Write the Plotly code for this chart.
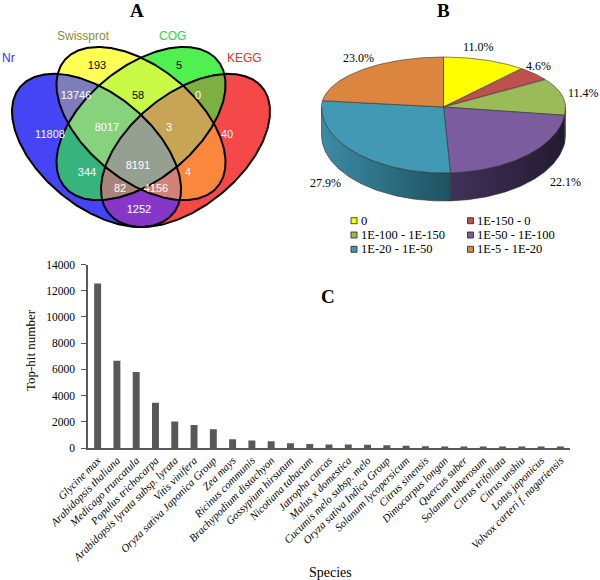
import numpy as np
import plotly.graph_objects as go

W, H = 600, 580

# ---------------- A: Venn ----------------
venn_sets = ["Nr", "Swissprot", "COG", "KEGG"]
venn_set_colors = ["#3030ff", "#8c8c2a", "#2ed82e", "#e62e2e"]
# regions indexed by bitmask (bit0 Nr, bit1 Swissprot, bit2 COG, bit3 KEGG), 1..15
venn_counts = [11808, 193, 13746, 5, 344, 58, 8017, 40, 1252, 4, 4156, 0, 82, 3, 8191]
venn_region_colors = ["#4545f5", "#ffff55", "#7d7db9", "#50f050", "#37b47d", "#c8fa46",
                      "#87d27d", "#f54848", "#8737c8", "#fa873c", "#d28278", "#7daf41",
                      "#a88479", "#c8a555", "#96a091"]
venn_text_colors = ["white", "black", "white", "black", "white", "black", "white", "white",
                    "white", "white", "white", "white", "white", "white", "white"]
venn_label_px = [(50, 135), (97, 66), (76, 96), (179, 66), (87, 173), (138, 96), (107, 128),
                 (227, 135), (139, 210), (188, 173), (156, 189), (198, 96), (120, 189),
                 (169, 128), (138, 166)]
venn_set_label_px = [(8, 58), (83, 36), (172, 36), (244, 58)]

# ellipse layout (unit square), mapped to pixels
ell_centers = [(0.35, 0.47), (0.5, 0.57), (0.5, 0.57), (0.65, 0.47)]
ell_angles = [-45, -45, 45, 45]
ell_a, ell_b = 0.35, 0.2
X0, SX, Y0, SY = -7.3, 296.6, 276.7, 268.7

# ---------------- B: pie ----------------
pie_labels = ["0", "1E-150 - 0", "1E-100 - 1E-150", "1E-50 - 1E-100", "1E-20 - 1E-50", "1E-5 - 1E-20"]
pie_values = [11.0, 4.6, 11.4, 22.1, 27.9, 23.0]
pie_colors = ["#ffff00", "#c0504d", "#9bbb59", "#7b5c9e", "#4299b3", "#dc853f"]
wall_colors = [("#b3b300", "#999900"), ("#8a3a38", "#6e2e2c"), ("#728a40", "#5a6e33"),
               ("#40325a", "#231a30"), ("#3b8ca4", "#1e5262"), ("#a86430", "#8a5027")]
pie_label_px = [(478, 47), (538, 66), (583, 93), (565, 182), (325, 183), (358, 58)]

# ---------------- C: bars ----------------
species = ["Glycine max", "Arabidopsis thaliana", "Medicago truncatula", "Populus trichocarpa",
           "Arabidopsis lyrata subsp. lyrata", "Vitis vinifera", "Oryza sativa Japonica Group",
           "Zea mays", "Ricinus communis", "Brachypodium distachyon", "Gossypium hirsutum",
           "Nicotiana tabacum", "Jatropha curcas", "Malus x domestica", "Cucumis melo subsp. melo",
           "Oryza sativa Indica Group", "Solanum lycopersicum", "Citrus sinensis",
           "Dimocarpus longan", "Quercus suber", "Solanum tuberosum", "Citrus trifoliata",
           "Citrus unshiu", "Lotus japonicus", "Volvox carteri f. nagariensis"]
tophits = [12550, 6650, 5800, 3450, 2020, 1760, 1430, 660, 570, 520, 360, 310, 270, 260, 250,
           210, 180, 140, 110, 100, 95, 90, 80, 60, 50]

SERIF = "Liberation Serif, Times New Roman, serif"
SANS = "Liberation Sans, Arial, sans-serif"

fig = go.Figure()

# ---- Venn regions as a heatmap of set membership ----
gx = np.arange(0, 300) + 0.5
gy = np.arange(0, 250) + 0.5
PX, PY = np.meshgrid(gx, gy)
UX = (PX - X0) / SX
UY = (Y0 - PY) / SY
mask = np.zeros(PX.shape, dtype=int)
for i, ((cx, cy), ang) in enumerate(zip(ell_centers, ell_angles)):
    th = np.radians(ang)
    dx, dy = UX - cx, UY - cy
    u = dx * np.cos(th) + dy * np.sin(th)
    v = -dx * np.sin(th) + dy * np.cos(th)
    inside = (u / ell_a) ** 2 + (v / ell_b) ** 2 <= 1
    mask += inside.astype(int) << i
z = np.where(mask > 0, mask, np.nan)
n = len(venn_region_colors)
cscale = []
for k, c in enumerate(venn_region_colors):
    cscale += [[k / n, c], [(k + 1) / n, c]]
fig.add_trace(go.Heatmap(x=gx, y=gy, z=z, colorscale=cscale, zmin=0.5, zmax=n + 0.5,
                         showscale=False, hoverinfo="skip", xaxis="x", yaxis="y"))

t = np.linspace(0, 2 * np.pi, 400)
for (cx, cy), ang in zip(ell_centers, ell_angles):
    th = np.radians(ang)
    ex = cx + ell_a * np.cos(t) * np.cos(th) - ell_b * np.sin(t) * np.sin(th)
    ey = cy + ell_a * np.cos(t) * np.sin(th) + ell_b * np.sin(t) * np.cos(th)
    fig.add_trace(go.Scatter(x=X0 + SX * ex, y=Y0 - SY * ey, mode="lines",
                             line=dict(color="black", width=2), hoverinfo="skip",
                             xaxis="x", yaxis="y"))

fig.add_trace(go.Scatter(x=[p[0] for p in venn_label_px], y=[p[1] for p in venn_label_px],
                         mode="text", text=[str(c) for c in venn_counts],
                         textfont=dict(family=SANS, size=11, color=venn_text_colors),
                         hoverinfo="skip", xaxis="x", yaxis="y"))

annotations = []
for name, col, (px, py) in zip(venn_sets, venn_set_colors, venn_set_label_px):
    annotations.append(dict(x=px, y=py, xref="x", yref="y", text=name, showarrow=False,
                            font=dict(family=SANS, size=12, color=col)))

# ---- 3D-looking pie ----
CX, CY, RA, RB_TOP, RB_BOT, DEPTH = 443.5, 107.0, 122.0, 50.0, 66.0, 28.0


def rim(cw_deg):
    phi = np.radians(90.0 - np.asarray(cw_deg))
    s = np.sin(phi)
    rb = np.where(s > 0, RB_TOP, RB_BOT)
    return CX + RA * np.cos(phi), CY - rb * s


cum = np.concatenate([[0], np.cumsum(pie_values)]) / sum(pie_values) * 360.0
# side walls (front half only)
for i in range(len(pie_values)):
    c1, c2 = max(cum[i], 90.0), min(cum[i + 1], 270.0)
    if c2 <= c1:
        continue
    cw = np.linspace(c1, c2, 80)
    xs, ys = rim(cw)
    px = np.concatenate([xs, xs[::-1], xs[:1]])
    py = np.concatenate([ys, ys[::-1] + DEPTH, ys[:1]])
    fig.add_trace(go.Scatter(x=px, y=py, mode="lines", fill="toself",
                             fillgradient=dict(type="horizontal",
                                               colorscale=[[0, wall_colors[i][0]], [1, wall_colors[i][1]]]),
                             line=dict(color="#303030", width=0.6), hoverinfo="skip",
                             xaxis="x2", yaxis="y2"))
# top faces
for i in range(len(pie_values)):
    cw = np.linspace(cum[i], cum[i + 1], 120)
    xs, ys = rim(cw)
    px = np.concatenate([[CX], xs, [CX]])
    py = np.concatenate([[CY], ys, [CY]])
    fig.add_trace(go.Scatter(x=px, y=py, mode="lines", fill="toself", fillcolor=pie_colors[i],
                             line=dict(color="#303030", width=0.6), hoverinfo="skip",
                             xaxis="x2", yaxis="y2"))

for v, (px, py) in zip(pie_values, pie_label_px):
    annotations.append(dict(x=px, y=py, xref="x2", yref="y2", text=f"{v:.1f}%", showarrow=False,
                            font=dict(family=SERIF, size=12, color="black")))

# pie legend: two columns, three rows
shapes = []
leg_x = [351, 467.5]
leg_y = [220.7, 235, 249.3]
for i, (lab, col) in enumerate(zip(pie_labels, pie_colors)):
    lx, ly = leg_x[i % 2], leg_y[i // 2]
    shapes.append(dict(type="rect", xref="x2", yref="y2", x0=lx, x1=lx + 6, y0=ly - 3, y1=ly + 3,
                       fillcolor=col, line=dict(color="#202020", width=0.8)))
    annotations.append(dict(x=lx + 7.5, y=ly, xref="x2", yref="y2", text=lab, showarrow=False,
                            xanchor="left", font=dict(family=SERIF, size=12.5, color="black")))

# ---- bar chart ----
fig.add_trace(go.Bar(x=species, y=tophits, marker=dict(color="#585858", line=dict(width=0)),
                     hoverinfo="skip", xaxis="x3", yaxis="y3"))

# panel letters and axis titles
for txt, px, py in [("A", 137, 11), ("B", 443, 11), ("C", 328, 296)]:
    annotations.append(dict(x=px / W, y=1 - py / H, xref="paper", yref="paper", text=f"<b>{txt}</b>",
                            xanchor="center", yanchor="middle", showarrow=False,
                            font=dict(family=SERIF, size=19, color="black")))
annotations.append(dict(x=30 / W, y=1 - 350 / H, xref="paper", yref="paper", text="Top-hit number",
                        xanchor="center", yanchor="middle", textangle=-90, showarrow=False,
                        font=dict(family=SERIF, size=13, color="black")))
annotations.append(dict(x=330 / W, y=1 - 572 / H, xref="paper", yref="paper", text="Species",
                        xanchor="center", yanchor="middle", showarrow=False,
                        font=dict(family=SERIF, size=14, color="black")))

hidden = dict(visible=False, showgrid=False, zeroline=False, fixedrange=True, automargin=False)
fig.update_layout(
    width=W, height=H, margin=dict(l=0, r=0, t=0, b=0, autoexpand=False),
    paper_bgcolor="white", plot_bgcolor="white", showlegend=False,
    xaxis=dict(hidden, domain=[0, 300 / W], range=[0, 300]),
    yaxis=dict(hidden, domain=[1 - 250 / H, 1], range=[250, 0]),
    xaxis2=dict(hidden, domain=[300 / W, 1], range=[300, 600]),
    yaxis2=dict(hidden, domain=[1 - 260 / H, 1], range=[260, 0]),
    xaxis3=dict(domain=[88 / W, 570 / W], showgrid=False, zeroline=False, showline=True,
                linecolor="#595959", linewidth=1.5, ticks="", tickangle=-45, automargin=False,
                tickfont=dict(family=SERIF, size=11, color="black", style="italic"), anchor="y3"),
    yaxis3=dict(domain=[1 - 448 / H, 1 - 264.5 / H], range=[0, 14000], dtick=2000, tickformat="d",
                showgrid=False, zeroline=False, showline=True, linecolor="#595959", linewidth=1.5,
                ticks="outside", ticklen=5, tickcolor="#595959", automargin=False, ticklabelstandoff=4,
                tickfont=dict(family=SERIF, size=11.5, color="black"), anchor="x3"),
    bargap=0.64,
    annotations=annotations, shapes=shapes,
)

# the page body has a default 8px margin; drop it so the figure sits at the window corner
fig.write_html("out.html", config={"displayModeBar": False},
               post_script="document.body.style.margin='0px';")
